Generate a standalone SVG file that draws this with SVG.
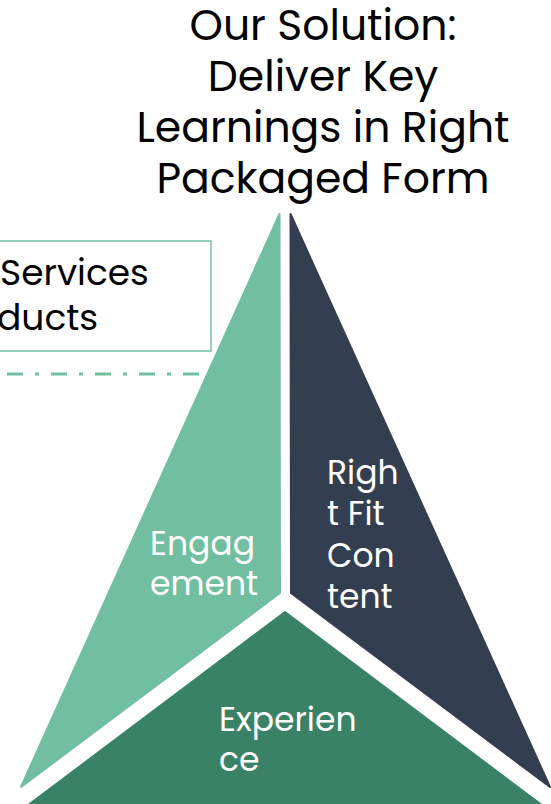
<svg xmlns="http://www.w3.org/2000/svg" width="551" height="804" viewBox="0 0 551 804">
<style>
.title{font-family:"Poppins","Inter","Open Sans",sans-serif;font-size:42.5px;fill:#000;text-anchor:middle}
.lbl{font-family:"Poppins","Inter","Open Sans",sans-serif;font-size:33px;fill:#fff}
.box{font-family:"Poppins","Inter","Open Sans",sans-serif;font-size:36px;fill:#000}
.seg{stroke-linejoin:round;stroke-width:2}
</style>
<rect width="551" height="804" fill="#fff"/>
<g id="title">
<text class="title" x="323" y="40">Our Solution:</text>
<text class="title" x="323" y="91">Deliver Key</text>
<text class="title" x="323" y="142">Learnings in Right</text>
<text class="title" x="323" y="193">Packaged Form</text>
</g>
<g id="box">
<rect x="-20" y="241" width="231" height="110" fill="none" stroke="#70BF9F" stroke-width="1.5"/>
<text class="box" x="0" y="285">Services</text>
<text class="box" x="-3" y="330">ducts</text>
</g>
<g id="connectors">
<line x1="7" y1="374" x2="200" y2="374" stroke="#70BF9F" stroke-width="3" stroke-dasharray="16 12 4 12"/>
</g>
<g id="engagement">
<polygon class="seg" points="279.5,214 280,593 21,787" fill="#71BFA0" stroke="#71BFA0"/>
<text class="lbl" x="150" y="555">Engag</text>
<text class="lbl" x="150" y="595">ement</text>
</g>
<g id="rightfit">
<polygon class="seg" points="290.5,214 550,787 291,593" fill="#333E50" stroke="#333E50"/>
<text class="lbl" x="327" y="484">Righ</text>
<text class="lbl" x="327" y="525">t Fit</text>
<text class="lbl" x="327" y="567">Con</text>
<text class="lbl" x="327" y="608">tent</text>
</g>
<g id="experience">
<polygon class="seg" points="285,612 543,806 27,806" fill="#3A8266" stroke="#3A8266"/>
<text class="lbl" x="219" y="731">Experien</text>
<text class="lbl" x="219" y="771">ce</text>
</g>
</svg>
